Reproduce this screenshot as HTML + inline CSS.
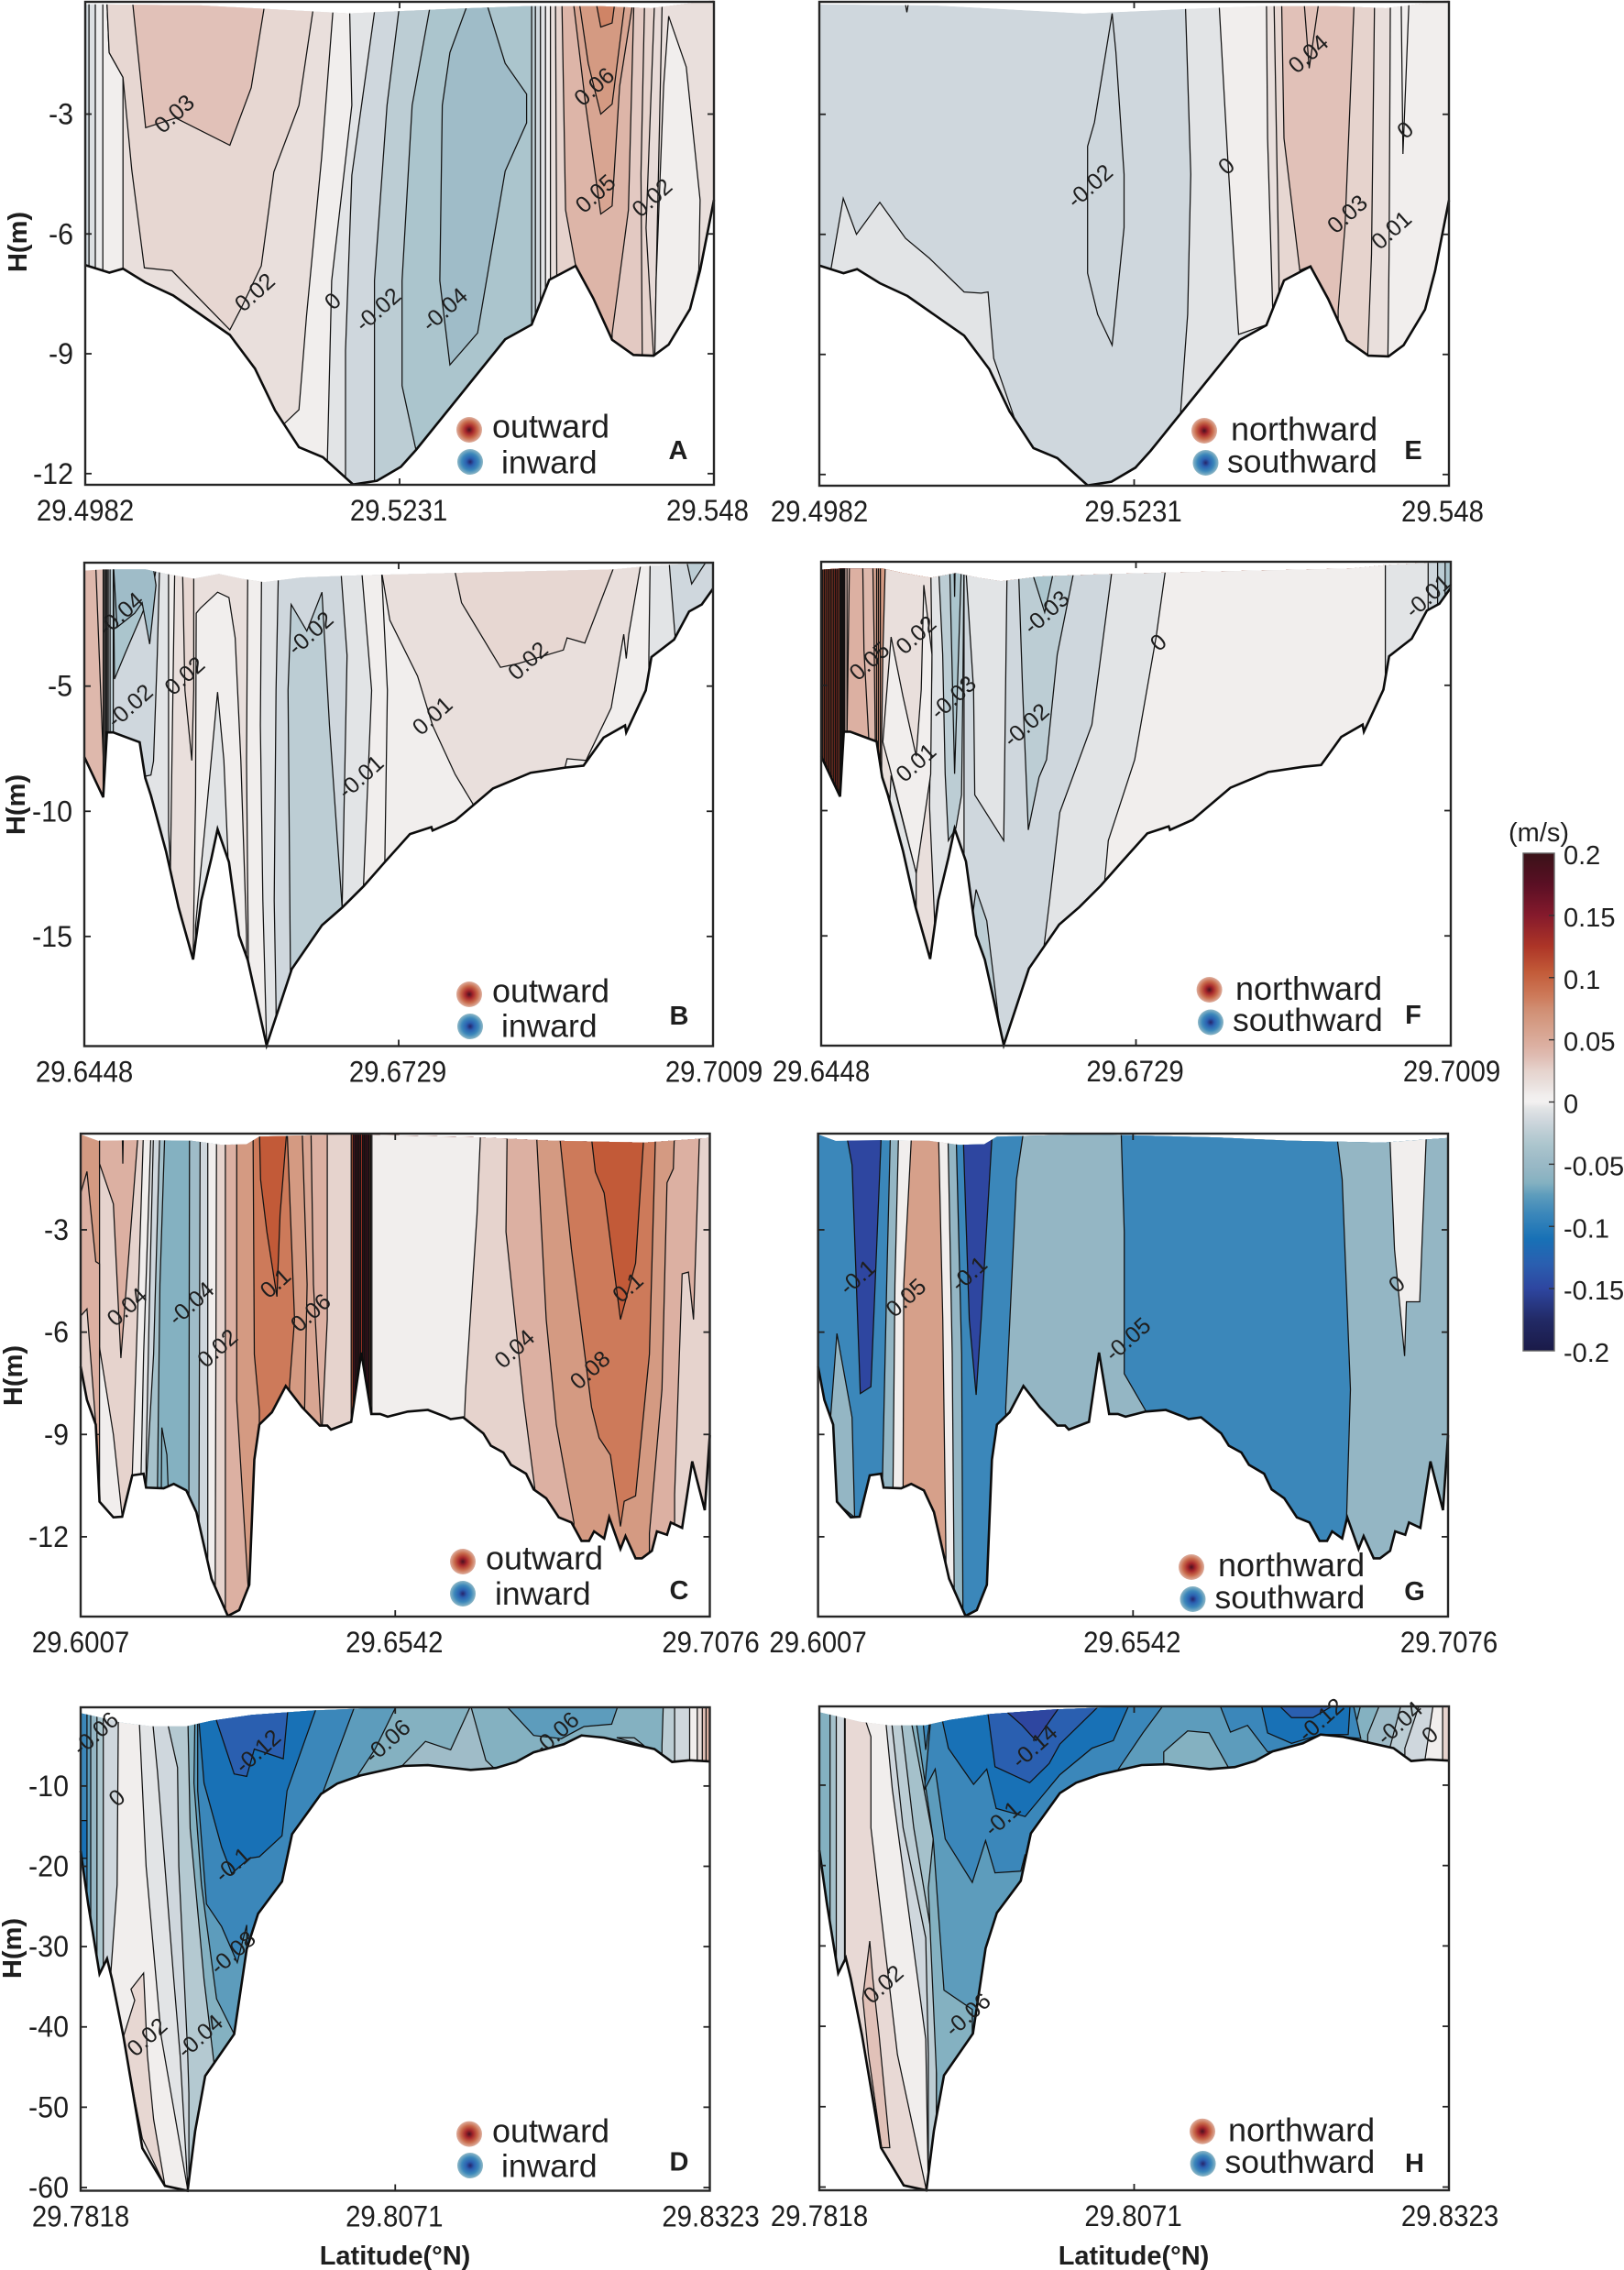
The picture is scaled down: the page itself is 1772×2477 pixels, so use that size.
<!DOCTYPE html>
<html lang="en">
<head>
<meta charset="utf-8">
<title>Cross-section velocity contours</title>
<style>
html,body{margin:0;padding:0;background:#fff;}
svg{display:block;font-family:"Liberation Sans",sans-serif;}
</style>
</head>
<body>
<svg id="figure" xmlns="http://www.w3.org/2000/svg" width="1772" height="2477" viewBox="0 0 1772 2477">
<defs id="defs">
<radialGradient id="dotRed"><stop offset="0" stop-color="#4a1020"/><stop offset="0.3" stop-color="#a5252a"/><stop offset="0.65" stop-color="#c8694a"/><stop offset="1" stop-color="#deb0a0"/></radialGradient>
<radialGradient id="dotBlue"><stop offset="0" stop-color="#26246a"/><stop offset="0.3" stop-color="#2a5fb0"/><stop offset="0.65" stop-color="#3b87ba"/><stop offset="1" stop-color="#8fb8c6"/></radialGradient>
</defs>
</svg>
<script>
// ---------- colour scale (m/s) ----------
const colorValues = [-0.2,-0.175,-0.15,-0.13,-0.11,-0.09,-0.075,-0.065,-0.055,-0.045,-0.035,-0.025,-0.015,-0.005,0,0.005,0.015,0.025,0.035,0.045,0.055,0.065,0.075,0.085,0.105,0.125,0.15,0.175,0.2];
const colorHex = ['#1a1a48','#222a66','#2e46a0','#2a5fb0','#1871b6','#3b87ba','#5d9cbc','#84b1c1','#94b6c4','#9fbcc8','#abc5cd','#bccdd4','#cfd7dd','#e2e4e6','#f3f1f1','#f1eeed','#e9dfdc','#e6d3cd','#e0bfb6','#dcb0a2','#d8a592','#d49a82','#d08d72','#cd7a5a','#c25a38','#ad3527','#851a2c','#5a0f24','#3a1218'];
const colorbarTicks = [0.2,0.15,0.1,0.05,0,-0.05,-0.1,-0.15,-0.2];
const colorbarTickLabels = ['0.2','0.15','0.1','0.05','0','-0.05','-0.1','-0.15','-0.2'];

// ---------- sections: along-section position (% of span), depth (m) ----------
const bedAE = [0,6.78,3.84,6.97,6,6.87,9.6,7.22,14,7.54,23,8.53,27,9.37,30.2,10.42,34,11.34,37.8,11.59,42.6,12.27,46.4,12.18,50.2,11.83,52.6,11.41,66.8,8.64,71,8.27,73.8,7.15,78,6.8,80.8,7.61,83.8,8.65,87.2,9.03,90.4,9.05,92.8,8.77,96.2,7.88,97.8,6.91,100,5.15];
const surfaceAE = [0,0.25,18.4,0.28,42,0.48,58,0.37,70,0.3,82,0.3,90,0.35,100,0.15];
const bedBF = [0,7.83,3,9.44,3.6,6.85,4.6,6.85,8.8,7.24,9.7,8.67,10.6,9.37,13,11.61,15,13.85,17.3,15.92,18.6,13.57,20.2,11.89,21.2,10.72,23,12.03,24.6,14.97,26,15.95,29,19.35,33,16.3,37.8,14.55,41,13.85,44.4,13,47.8,12.03,51.8,10.91,55.2,10.63,55.4,10.77,59,10.37,65,9.09,71,8.46,76.6,8.25,79.4,8.18,82.6,7.06,86,6.57,86.2,6.85,89.3,5.17,90.2,3.84,93.8,3.14,96.2,2.02,98.2,1.74,100,1.11];
const surfaceBF = [0,0.38,3,0.34,9.8,0.34,13,0.52,17.4,0.71,21.4,0.52,25,0.71,28.6,0.85,34.6,0.66,44.2,0.57,58.6,0.48,84.2,0.34,89.8,0.2,100,0.07];
const bedCG = [0,7.01,1,7.99,2.4,8.71,3,10.97,5.2,11.43,6.6,11.41,8.2,10.2,10,10.15,10.4,10.56,13.2,10.58,14.8,10.45,16.8,10.64,18.4,11.28,20.8,13.23,23.4,14.32,25.2,14.15,26.8,13.41,27.6,9.74,28.4,8.71,30.4,8.35,32.6,7.58,35.2,8.2,38,8.74,39.2,8.74,39.8,8.86,43,8.63,44.6,6.6,46.2,8.4,47.6,8.4,48.8,8.48,52,8.33,55.2,8.28,58,8.48,58.8,8.55,60.8,8.5,64,8.97,65.2,9.33,67.2,9.53,68.4,9.89,70.8,10.15,72,10.61,74,10.87,76,11.43,78,11.58,79.6,12.12,80.8,12.12,81.6,11.84,83.2,12.05,84,11.43,85.8,12.36,86.6,11.98,88.2,12.63,89.2,12.63,90.8,12.41,91.6,11.84,93.2,11.94,93.8,11.58,95.6,11.74,97.2,9.79,99.2,11.22,100,9.02];
const surfaceCG = [0,0.2,2.8,0.39,10,0.37,17.6,0.39,22.4,0.51,26.4,0.49,28.4,0.27,43.2,0.2,63.2,0.29,75.2,0.39,89.6,0.44,100,0.31];
const bedDH = [0,18.1,1.2,24.7,3,33.4,4.2,31.5,5,34.1,6.8,41.2,9.8,55.1,13.4,59.8,17,60.4,18.2,53,19.8,46.1,24.4,40.9,26.4,30.3,28.2,25.9,32,21.9,33.6,16,38.2,11,40.8,9.7,44.4,8.7,51.2,7.5,55.2,7.4,62,8,66,7.75,69.2,7,72,5.8,76.8,4.8,79.6,3.7,83.2,3.98,91.2,5.4,94,7,96.8,6.8,100,6.95];
const surfaceDH = [0,0.9,6.4,2.1,11.2,2.57,16.8,2.57,20.8,1.87,27.2,1.15,36.8,0.6,49.6,0.2,100,0.2];

// ---------- panel A ----------
const bandsA = [[-0.008,[0.6,0]],[-0.002,[1.6,0]],[0.005,[2.8,0]],[0.015,[3.4,0,3.8,1.46,6,2.08,6,6.5]],
[0.005,[39.6,0,37.6,4.1,35.2,8.04,34,10.4,31.6,10.76,29.6,12.43]],[-0.005,[42,0,42.4,2.78,39.2,7.17,38.4,12.43]],[-0.015,[46.4,0,42.4,4.53,41.4,8.92,41.4,12.43]],[-0.025,[50.2,0,48,2.78,46,7.17,46,12.4]],[-0.035,[55.2,0,52,2.78,50.4,7.17,50.4,9.8,52.6,11.4]],
[-0.025,[71,0]],[-0.015,[71.6,0]],[-0.005,[72.4,0]],[0.005,[73.2,0]],[0.015,[74,0]],[0.025,[74.8,0,75,7]],[0.042,[75.8,0,76.4,5.4,78,6.8]],
[0.03,[87.3,0,86.4,5.4,83.8,8.5]],[0.025,[89,0,88.4,4.5,88.6,9.05]],[0.018,[90.6,0,89.2,5.85,90.4,9.05]],[0.015,[91.8,0,90.8,7.17,90.6,9.05]]];
const patchesA = [[0.022,[3.4,0,3.8,1.46,6,2.08,7.4,4.4,9.4,6.85,13.8,6.92,23,8.4,24.8,7.86,28,6.8,30,4.45,34,2.78,36.6,0]],
[0.034,[7.4,0,9.6,3.34,14.4,3.1,23,3.78,26.4,2.34,28.8,0]],
[-0.045,[61.4,0,58,1.46,56.8,2.78,56.4,7.17,58,9.28,62.4,8.48,66.8,4.43,70.2,3.22,70.2,2.5,66.8,1.73,63.4,0]],
[0.055,[77.5,0,79.6,2.78,82,5.5,83.8,5.3,85,2.3,87.3,0]],[0.065,[78.4,0,80,1.73,82,3,83.8,2.75,86,0]],[0.08,[81,0,82,0.82,83.8,0.72,84.4,0]],
[0.005,[92.8,0.55,95.6,1.82,97.8,5.15,97.6,6.9,96.2,7.9,92.8,8.8,90.6,9.05,90.8,7.17,92,2.3]]];
const labelsA = [['0.03',14.2,3],['0.02',27,7.47],['0',39.4,7.69],['-0.02',46.6,7.9],['-0.04',57.2,7.9],['0.06',81,2.32],['0.05',81.2,5],['0.02',90.2,5.1]];

// ---------- panel E ----------
const bandsE = [[-0.005,[58.1,0,59,4.5,58.5,8,57.3,10.6]],[0.005,[63.4,0,64.9,4.2,66.6,8.5,70.8,8.27]],[0.015,[71,0,71.2,3.6,72,7.8]],[0.022,[72.2,0,73,7]],[0.034,[73.4,0,73.8,3.6,76.3,6.9,77.8,6.8]],[0.025,[85,0,83.5,5.8,82.4,7.9]],[0.015,[88.2,0,87.7,6.5,87.1,9]],[0.005,[90.7,0,90.5,6.5,90.3,9]]];
const patchesE = [[-0.005,[1.7,13,1.7,7,3.8,5.1,5.9,6,9.6,5.2,13.7,6.1,17.5,6.6,23,7.44,25.7,7.47,26.8,7.44,27.7,9.1,31,10.6,31,13]],
[-0.016,[46.5,0.48,43.7,3.2,42.6,3.8,42.6,6.97,44.2,8,46.5,8.77,48.4,5.83,48.4,4.5,47.1,1.45]],
[-0.005,[13.4,0,13.9,0.45,14.4,0]],[0.034,[76.9,0,77.8,1.85,79.5,0]],[0.005,[92.4,0,92.7,3.99,93.7,0]]];
const labelsE = [['-0.02',43,4.8],['0',64.7,4.3],['0',93.1,3.4],['0.04',77.7,1.5],['0.03',83.9,5.5],['0.01',90.9,5.9]];

// ---------- panel B ----------
const bandsB = [[0.035,[1.8,0,3,7.83]],[0.02,[3,0]],[0.01,[3.2,0]],[0,[3.4,0]],[-0.005,[3.6,0]],[-0.015,[3.8,0]],[-0.025,[4.1,0]],[-0.015,[4.6,0]],
[-0.005,[12,0,11.6,3.77,11,8,10.6,8.55,9.7,8.6]],[0.005,[13.4,0,13.4,10.77,13.7,12.17]],[0.015,[14.4,0,14.1,5.17,13.7,12.17]],
[0.005,[26,0,25.8,7.97,26.1,15.95]],[-0.005,[28.2,0,28,6.57,28.4,13.57,29,19.3]],[-0.015,[30.9,0,30.5,5.17,30.2,13.57,30.5,17.77]],
[-0.005,[40.7,0,41.8,3.77,41,13.85]],[0.005,[44,0,45.7,5.17,44.4,13]],[0.005,[47.2,0,48.2,5.17,47.8,12.03]],[0.015,[47,0,48.6,2.37,53,4.6,55.4,6.57,59,8.53,61.8,9.7]],
[0.005,[88.6,0,86.6,2.93,86.2,3.9,85.8,2.93,83.8,5.87,79.8,7.97,76.8,7.9,76.4,8.3]],[-0.005,[90,0,89.8,3.77]],[-0.015,[93,0,94,3.1]]];
const patchesB = [[-0.035,[4.6,0,4.8,4.72,6.6,3.63,9,2.23,11,0.97,11.6,0]],[-0.045,[4.6,0,5.2,2.65,8,2.09,9.2,1.67,10.4,3.32,10.8,2.37,11.4,0.97,10.8,0]],
[0.022,[15.6,0,16,5.17,17.1,7.97,17.4,5.17,17.4,0]],
[0.005,[17.8,2.09,18.5,1.88,21.2,1.25,23,1.46,24,3.07,24.9,7.97,25.8,14.97,25.8,20,17.3,20,17.3,15.92,17.7,9.37]],
[-0.005,[21.2,5.24,19.4,10.07,17.7,14.55,17.7,20,24,20,22.8,11.47,22.2,7.97]],
[-0.025,[32.9,1.74,35.4,2.8,37.8,1.25,39,6.57,41,13.85,41,20,32.9,20,32.4,5.17]],
[0.022,[58.6,0,60,1.67,66.2,4.25,69,4.1,76.2,3.56,76.8,3.07,79.6,3.28,84.6,0]],[-0.025,[95.8,0,96.6,0.92,99,0]]];
const labelsB = [['-0.04',5.8,2.13],['-0.02',7.3,5.8],['0.02',16,4.6],['-0.02',36,2.9],['0.01',55.4,6.2],['-0.01',44,8.64],['0.02',70.6,4]];

// ---------- panel F ----------
const bandsF = [[0.105,[0.25,0]],[0.125,[0.5,0]],[0.105,[0.75,0]],[0.125,[1,0]],[0.105,[1.25,0]],[0.125,[1.5,0]],[0.105,[1.75,0]],[0.125,[2,0]],[0.125,[2.25,0]],[0.125,[2.5,0]],[0.105,[2.75,0]],[0.2,[3,0]],[0.2,[3.15,0]],[0.2,[3.3,0]],[0.2,[3.45,0]],[0.2,[3.6,0]],
[0.035,[3.75,0]],[0.035,[4.1,0]],[0.045,[4.5,0,4.1,7]],[0.04,[6.6,0,6.8,3.6,7.6,7.3]],[0.055,[8.2,0,8.4,3,8.6,7.3]],[0.065,[8.8,0,8.8,8]],[0.065,[9.1,0,9.1,8]],[0.065,[9.4,0,9.4,8]],
[0.015,[10.2,0,9.8,3.77,9.6,7.26,9.6,8.2]],[-0.005,[17.4,0,17.6,3.77,17.2,9.8,18,14.3]],[-0.015,[22.7,0]],[-0.005,[46.4,0,43,6.57,37.9,10.07,36.3,13.57,35.4,15.4]],[0.005,[54.9,0,53.2,3.07,49.8,7.97,45.6,11.2,45,12.87]],[-0.005,[89.6,0,89.6,3.77]],[-0.015,[96.4,0]],[-0.025,[97.9,0]],[-0.035,[99.1,0]]];
const patchesF = [[0.005,[11.1,3.07,9.8,7.26,10.8,8.2,15.1,12.5,17.4,8.55,17.6,3.77,16.3,1,15.9,5.17,15.1,7.83,13,5.45]],
[-0.005,[11.1,8.6,10.4,12,15.1,14,15.1,12.5]],
[-0.025,[18.6,0,19.3,3.77,19.7,8.53,20.2,11.2,21.4,10.7,22.3,9.37,22.5,5.17,22.7,0]],[-0.035,[20.4,0,21.2,8.53,22.3,0]],[-0.045,[21.1,0,21.2,1.47,21.3,0]],
[-0.005,[22.9,0,24.2,5.17,24.4,9.37,29,11.2,29.5,0.8,29.5,0]],[-0.025,[24.6,13.15,24,14.3,24.4,14.83,28.6,19.2,26.3,14.4]],
[-0.025,[31.3,0,32,5.17,32.9,10.77,34.6,8.67,35.8,7.97,37.5,3.77,40.5,0]],[-0.035,[32.9,0,35.5,2.09,37.3,0]]];
const labelsF = [['0.05',7.7,4.05],['0.02',15.1,3],['-0.03',21,5.5],['-0.03',35.8,2.1],['-0.02',32.6,6.6],['0',53.6,3.3],['0.01',15.1,8.1],['-0.01',96.4,1.45]];

// ---------- panel C ----------
const bandsC = [[0.025,[3,0]],[0.005,[10,0,9.2,4.6,8.2,10.2]],[-0.005,[11.2,0,10,6.65,9.6,10.2]],[-0.015,[11.6,0,11,4.6,10.4,9.74]],[-0.04,[12.6,0,11.6,6.65,10.4,10.56]],[-0.065,[13.4,0,12.6,4.6,12.2,10.56]],
[-0.045,[17.3,0,17.2,10.64]],[-0.015,[19,0,18.8,11.28]],[0.005,[20.2,0,20.2,12.3]],[0.025,[21.6,0,21.4,12.82]],[0.045,[23,0]],[0.065,[24.8,0,24.8,8,26.6,13.41]],
[0.085,[27.4,0,27.6,6.65,28.4,8.3]],[0.065,[32.8,0,34,5.63,33.2,7.58]],[0.055,[35.2,0,36,4.6,35.6,8.2]],[0.045,[36.6,0,37,4.6,38.2,8.74]],[0.025,[39.2,0,39.2,5.63,38.4,8.74]],
[0.105,[43,0]],[0.175,[43.3,0]],[0.2,[43.6,0]],[0.2,[43.9,0]],[0.2,[44.2,0]],[0.125,[44.5,0]],[0.2,[44.8,0]],[0.2,[45.1,0]],[0.175,[45.4,0]],[0.175,[45.7,0]],[0.105,[45.9,0]],[0.025,[46.1,0]],[0.005,[46.3,0]],
[0.025,[63.6,0,63,2.55,61.2,7.68,61,8.5]],[0.045,[67.8,0,67.6,3.06,70.4,8,72.2,10.61]],[0.065,[72.4,0,74,5.63,75.6,8.71,78.4,11.58]],[0.045,[94.4,0,94.2,1.21,93.2,1.62,92.4,7.68,90.4,11.9]],[0.015,[98.6,0]]];
const patchesC = [[0.045,[0,1.93,1,1.29,2.4,3.93,3,4,3,9,0,9]],[0.025,[0,5.53,1,5.32,2.4,8.7,3,11,0,11]],
[0.045,[3,0,3,1.06,5.2,2.24,6.4,6.76,9.2,0]],[0.045,[6.6,0,6.7,1.06,6.8,0]],[0.005,[3,6.45,5.2,9,6.6,11.4,3,15]],[-0.065,[12.9,8.8,12.8,11,14,11,13.7,9.6]],
[0.105,[28.4,0,28.6,1.52,29.6,3.06,31.2,4.96,31.7,2.55,32.8,0]],
[0.085,[76,0,78,3.57,81.2,8.2,82.4,9.1,84.2,9.6,85.8,11.7,86.4,10.96,88.2,10.8,90.4,6.65,91.4,0]],[0.105,[81,0,81.8,1.3,83.2,1.92,85.8,5.63,88.2,3.98,89.6,0]],
[0.025,[95.6,4.29,96.6,4.24,97.4,5.63,98.4,0,100,0,100,20,94.4,20,94.4,10.76]]];
const labelsC = [['0.04',7.4,5.27],['-0.04',17.6,5.17],['0.02',21.8,6.48],['0.1',31,4.57],['0.06',36.6,5.44],['0.04',69,6.5],['0.08',81,7.12],['0.1',87,4.7]];

// ---------- panel G ----------
const bandsG = [[-0.055,[11.5,0,10.9,4.6,10.2,10.56]],[0.005,[12.8,0,12.2,4.6,11.9,10.56]],[0.06,[14.9,0,13.6,4.6,13.5,10.56]],[0.005,[19.1,0,19.8,5.63,20.3,12.5]],[-0.055,[20.6,0,21.3,6.65,21.6,13.4]],[-0.09,[21.9,0,22.8,6.65,23,14.3]],
[-0.055,[32.7,0,31.5,1.52,29.8,8.2]],[-0.09,[48.1,0,48.6,3.06,48.6,7.22,52,8.3]],[-0.055,[82.2,0,83.2,1.52,84.5,7.68,83.9,11.43]]];
const patchesG = [[-0.055,[3,6.04,5.4,8.5,5.8,11.43,3,11,2,8.5]],[-0.15,[4.3,0,5.4,1.1,6.7,7.8,8.4,7.6,10,0.4,10,0]],[-0.15,[23,0,24,5.63,25.1,7.84,25.9,5.63,27.7,0]],[0.005,[90.7,0,91.5,3.57,93.1,6.7,93.4,5.11,95.5,5.11,96.6,0]]];
const labelsG = [['-0.1',6.3,4.4],['-0.1',24,4.3],['0.05',14,5],['-0.05',49.2,6.22],['0',91.9,4.6]];

// ---------- panel D ----------
const bandsD = [[-0.075,[1,0]],[-0.055,[1.6,0]],[-0.035,[2.6,0]],[-0.015,[3.6,0]],[0.005,[6,0,5.8,22.3,4.8,33.2]],[-0.005,[9.2,0,10.4,20,12.8,41.2,17,60.2]],[-0.015,[11.2,0,12.2,8.2,14.8,34.1,15.8,43.5,17,59.6]],[-0.03,[13.2,0,15.4,7.7,15.6,20,17,43,17.2,48.3]],
[-0.065,[17,0,17.4,15.3,19.6,34.1,21.2,44.5]],[-0.075,[18.2,0,18,9.6,19.2,22.3,21.6,36.5,24.4,40.9]],[-0.09,[18.6,0,18.6,10.6,20,24.7,22.4,27.5,24.9,32,26.4,27.3]],
[-0.075,[43.6,0,40.8,5.9,38.4,11]],[-0.065,[50.2,0,46.8,5.4,44,8.7]],[-0.025,[92.6,0,92.4,5]],[-0.015,[94.4,0]],[0.005,[96.8,0]],[0.015,[98,0]],[0.035,[98.8,0]],[0.045,[99.4,0]]];
const patchesD = [[-0.11,[0,14.3,1,14.3,1,19,0,19]],[0.022,[10,33.3,8,35.3,8.6,36.7,6.8,41.2,8.4,48.3,9.8,53.9,13.4,59.8,11.6,51.5,10.6,43.5]],
[-0.11,[18.6,0,19.6,9.63,22.4,17.6,24,20.9,26.8,19,28.4,18.8,32,16.2,32.8,10.6,37.6,0]],[-0.13,[20.8,0,24.4,8.5,26.4,8.8,27.6,5.4,32.2,6.6,33,0]],
[-0.045,[51.2,9,51.2,7.4,54.8,4.45,58.8,5.5,62,0,64.4,6.8,66,8]],[-0.075,[67.6,0,72,3.7,76.4,4.1,80,2.6,84.4,2.3,85.4,0]],[-0.045,[85.2,3.98,89.6,5,88,4]]];
const labelsD = [['-0.06',2.4,3.5],['0',5.8,11.5],['-0.12',28.2,5.7],['-0.06',48.8,4.45],['-0.06',75.6,3.5],['-0.1',24.2,19.85],['-0.08',24.2,30.8],['-0.04',19,41.2],['0.02',10.6,41.3]];

// ---------- panel H ----------
const bandsH = [[-0.04,[1.7,0]],[-0.015,[2.7,0]],[0.005,[4,0]],[0.02,[4.1,0]],[0.005,[6.5,0,8.2,3.96,8.2,15.3,12.4,43.5,16.9,60]],[-0.015,[10.3,0,11.6,10.56,16.9,41.6,17.3,60]],[-0.025,[11.2,0,13.3,15.3,16.9,29,17.3,43.5]],[-0.04,[12.7,0,15,15.3,17.8,28.5,18.6,43.5]],
[-0.065,[14.1,0,18.1,16.7,17.3,22.8,18.6,45.9]],[-0.075,[15,0,18.1,16.7,18.8,24.7,19.8,35.5,24.3,37.9]],[-0.09,[17.9,0,16.7,10.6,18.4,8,20,16.7,24.3,22.1,26.4,16.9,27.9,20.9,32,20.7,32.7,18.6]],[-0.075,[54.7,0,51.4,3.5,47.5,8]],
[-0.065,[86,0,84.8,3.7]],[-0.045,[89,0,87.1,3.7]],[-0.025,[92.4,0,90.7,5.1]],[-0.015,[95.3,0,93,5.4]],[0.005,[97.5,0,96.2,6.8]],[0.025,[99,0]]];
const patchesH = [[0.034,[8,29.4,6.9,36.5,7.8,43.5,9.9,55.1,11.2,55.1,9.5,41.2,8.5,34.1]],
[-0.09,[16.2,0,16.9,5.6,17.9,0]],
[-0.11,[19,0,20.5,5.4,24.5,9.9,26.6,8,28.1,12.9,32.7,13.9,38.2,8.7,43.3,5.4,46.7,4.45,49.2,0]],[-0.13,[26.6,0,27.9,7.7,33.4,9.7,36.5,7.3,38.2,4.9,44.6,0]],[-0.15,[28.5,0,32.2,2.56,34.4,4.45,38.4,0]],
[-0.065,[54.7,9,54.7,5.86,58.5,3.26,61.9,3.5,64.9,7.7,64.9,9]],
[-0.09,[63.6,0,65.3,3.4,68,2.56,71.2,5.86,75.5,5.4,79.7,3.7,86,4.2,84.8,0]],[-0.11,[70.2,0,71.2,3.5,75,4.8,79.7,3.7,84,3.7,84.3,0]],[-0.13,[72.9,0,75,1.6,78.4,1.6,81.8,0]]];
const labelsH = [['-0.14',34.2,5.2],['-0.12',79.7,1.9],['-0.04',92.2,2.3],['0',97,3.8],['-0.1',29.1,14.2],['0.02',10.2,34.8],['-0.06',23.6,38.6]];

// ---------- axis tick values ----------
const depthTicksAE = [3,6,9,12];
const depthTicksBF = [5,10,15];
const depthTicksCG = [3,6,9,12];
const depthTicksDH = [10,20,30,40,50,60];
const latLabelsAE = ['29.4982','29.5231','29.548'];
const latLabelsBF = ['29.6448','29.6729','29.7009'];
const latLabelsCG = ['29.6007','29.6542','29.7076'];
const latLabelsDH = ['29.7818','29.8071','29.8323'];

// ---------- layout ----------
const panels = [
 {id:'A',left:93,right:779,top:2,bottom:529,d0:0.19,d1:12.28,base:-0.015,bed:bedAE,surface:surfaceAE,bands:bandsA,patches:patchesA,labels:labelsA,dt:depthTicksAE,lat:latLabelsAE,title:[19,264],
  leg:['outward','inward',537,477.5,547,516.5,512,469,513,504],letter:[740,501]},
 {id:'E',left:894,right:1581,top:2,bottom:530,d0:0.19,d1:12.28,base:-0.015,bed:bedAE,surface:surfaceAE,bands:bandsE,patches:patchesE,labels:labelsE,dt:depthTicksAE,lat:latLabelsAE,
  leg:['northward','southward',1343,480.5,1339,515.5,1314,470,1315.5,505],letter:[1542,501]},
 {id:'B',left:92,right:778,top:614,bottom:1141.5,d0:0.07,d1:19.38,base:0.04,bed:bedBF,surface:surfaceBF,bands:bandsB,patches:patchesB,labels:labelsB,dt:depthTicksBF,lat:latLabelsBF,title:[17,878],
  leg:['outward','inward',537,1093.5,547,1131.5,512,1085,513,1120],letter:[741,1118]},
 {id:'F',left:896,right:1583,top:613,bottom:1141,d0:0.07,d1:19.38,base:0.125,bed:bedBF,surface:surfaceBF,bands:bandsF,patches:patchesF,labels:labelsF,dt:depthTicksBF,lat:latLabelsBF,
  leg:['northward','southward',1348,1091,1345,1125,1319.6,1080,1321,1115.5],letter:[1542,1117]},
 {id:'C',left:88,right:774.5,top:1237,bottom:1764,d0:0.18,d1:14.34,base:0.065,bed:bedCG,surface:surfaceCG,bands:bandsC,patches:patchesC,labels:labelsC,dt:depthTicksCG,lat:latLabelsCG,title:[14,1501],
  leg:['outward','inward',530,1712.5,540,1751,505,1704,505,1739],letter:[741,1745]},
 {id:'G',left:892.6,right:1580,top:1237,bottom:1764,d0:0.18,d1:14.34,base:-0.09,bed:bedCG,surface:surfaceCG,bands:bandsG,patches:patchesG,labels:labelsG,dt:depthTicksCG,lat:latLabelsCG,
  leg:['northward','southward',1329,1720,1325.5,1755,1300,1710,1301.5,1745],letter:[1543.5,1746]},
 {id:'D',left:88,right:774.5,top:1863,bottom:2390.5,d0:0.2,d1:60.4,base:-0.09,bed:bedDH,surface:surfaceDH,bands:bandsD,patches:patchesD,labels:labelsD,dt:depthTicksDH,lat:latLabelsDH,title:[13,2126],
  leg:['outward','inward',537,2337.5,547,2375.5,512,2328.6,513,2363],letter:[741,2368.6],xTitle:431},
 {id:'H',left:894,right:1581,top:1862,bottom:2390,d0:0.2,d1:60.4,base:-0.065,bed:bedDH,surface:surfaceDH,bands:bandsH,patches:patchesH,labels:labelsH,dt:depthTicksDH,lat:latLabelsDH,
  leg:['northward','southward',1340,2336.5,1336.5,2371,1312,2325.7,1312.6,2361],letter:[1543.5,2370],xTitle:1237}
];

// ---------- drawing ----------
const NS = 'http://www.w3.org/2000/svg';
const svg = document.getElementById('figure');
const defs = document.getElementById('defs');

function colorOf(v){
  if (v <= colorValues[0]) return colorHex[0];
  for (let i = 1; i < colorValues.length; i++){
    if (v <= colorValues[i]){
      const t = (v - colorValues[i-1]) / (colorValues[i] - colorValues[i-1]);
      const a = parseInt(colorHex[i-1].slice(1),16), b = parseInt(colorHex[i].slice(1),16);
      const mix = s => Math.round(((a>>s)&255)*(1-t) + ((b>>s)&255)*t);
      return 'rgb(' + mix(16) + ',' + mix(8) + ',' + mix(0) + ')';
    }
  }
  return colorHex[colorHex.length-1];
}
function node(tag, parent, attrs){
  const e = document.createElementNS(NS, tag);
  for (const k in attrs) e.setAttribute(k, attrs[k]);
  parent.appendChild(e);
  return e;
}
function putText(parent, str, x, y, size, anchor, weight, sx, angle){
  const t = node('text', parent, {
    transform:'translate(' + x + ',' + y + ') rotate(' + (angle||0) + ') scale(' + (sx||1) + ',1)',
    'font-size':size, 'text-anchor':anchor||'start', 'font-weight':weight||'normal', fill:'#1e1e1e'
  });
  t.textContent = str;
  return t;
}
function xOf(p, pos){ return p.left + pos/100*(p.right-p.left); }
function yOf(p, d){ return p.top + (d-p.d0)/(p.d1-p.d0)*(p.bottom-p.top); }
function toPixels(p, flat){
  const out = [];
  for (let i = 0; i < flat.length; i += 2) out.push(xOf(p,flat[i]).toFixed(1) + ',' + yOf(p,flat[i+1]).toFixed(1));
  return out;
}

panels.forEach(function(p){
  const g = node('g', svg, {});
  
  

  // water area clip: surface then bed reversed
  const rev = [];
  for (let i = p.bed.length-2; i >= 0; i -= 2) rev.push(p.bed[i], p.bed[i+1]);
  const waterPts = toPixels(p, p.surface.concat(rev)).join(' ');
  const clip = node('clipPath', defs, {id:'water' + p.id});
  node('polygon', clip, {points:waterPts});

  const field = node('g', g, {'clip-path':'url(#water' + p.id + ')'});
  
  

  const basePoly = node('polygon', field, {points:waterPts, fill:colorOf(p.base)});
  
  

  const deep = p.d1 + 5;
  p.bands.forEach(function(b){
    const pts = b[1];
    const line = [pts[0], -1].concat(pts, [pts[pts.length-2], deep]);
    const px = toPixels(p, line);
    const far = xOf(p,110).toFixed(1);
    const fillPts = px.concat([far + ',' + yOf(p,deep).toFixed(1), far + ',' + yOf(p,-1).toFixed(1)]).join(' ');
    const band = node('polygon', field, {points:fillPts, fill:colorOf(b[0])});
    
    
    const edge = node('polyline', field, {points:px.join(' '), fill:'none', stroke:'#111', 'stroke-width':1.25});
    
    
  });
  p.patches.forEach(function(c){
    const patch = node('polygon', field, {points:toPixels(p,c[1]).join(' '), fill:colorOf(c[0]), stroke:'#111', 'stroke-width':1.25});
    
    
  });

  const bedLine = node('polyline', g, {points:toPixels(p,p.bed).join(' '), fill:'none', stroke:'#0c0c0c', 'stroke-width':2.6});
  
  

  // frame and ticks
  const frame = node('rect', g, {x:p.left, y:p.top, width:p.right-p.left, height:p.bottom-p.top, fill:'none', stroke:'#262626', 'stroke-width':2.4});
  
  
  const mid = (p.left+p.right)/2;
  [[p.bottom,-7],[p.top,7]].forEach(function(t){
    const tick = node('line', g, {x1:mid, x2:mid, y1:t[0], y2:t[0]+t[1], stroke:'#222', 'stroke-width':1.8});
    
    
  });
  p.dt.forEach(function(d){
    const y = yOf(p,d);
    [[p.left,7],[p.right,-7]].forEach(function(t){
      const tick = node('line', g, {x1:t[0], x2:t[0]+t[1], y1:y, y2:y, stroke:'#222', 'stroke-width':1.8});
      
      
    });
    if (p.title){
      const lab = putText(g, '-' + d, p.left-13, y+11, 32, 'end', 'normal', 0.95);
      
      
    }
  });
  [p.left, mid, p.right].forEach(function(x, i){
    const off = i === 1 ? -1 : (i === 2 && p.lat[i].length < 7 ? -7 : (i === 2 ? 1 : 0));
    const lab = putText(g, p.lat[i], x+off, p.bottom+39, 32, 'middle', 'normal', 0.92);
    
    
  });
  if (p.title){
    const yt = putText(g, 'H(m)', p.title[0]+10, p.title[1], 29, 'middle', 'bold', 1, -90);
    
    
  }
  if (p.xTitle){
    const xt = putText(g, 'Latitude(°N)', p.xTitle, 2471, 29, 'middle', 'bold');
    
    
  }

  // inline contour labels
  p.labels.forEach(function(l){
    const t = putText(g, l[0], xOf(p,l[1]), yOf(p,l[2]), 25, 'middle', 'normal', 1, -42);
    t.setAttribute('dominant-baseline', 'central');
    
    
  });

  // legend
  const L = p.leg;
  const legend = node('g', g, {});
  
  
  const d1 = node('ellipse', legend, {cx:L[6], cy:L[7], rx:14, ry:14, fill:'url(#dotRed)'});
  
  
  const d2 = node('ellipse', legend, {cx:L[8], cy:L[9], rx:14, ry:14, fill:'url(#dotBlue)'});
  
  
  const t1 = putText(legend, L[0], L[2], L[3], 36, 'start');
  
  
  const t2 = putText(legend, L[1], L[4], L[5], 35.5, 'start');
  
  
  const letter = putText(g, p.id, p.letter[0], p.letter[1], 29, 'middle', 'bold');
  
  
});

// colour bar
const cbTop = 931, cbBottom = 1474, cbLeft = 1662, cbRight = 1696;
function cbY(v){ return cbTop + (0.2 - v)/0.4*(cbBottom-cbTop); }
const grad = node('linearGradient', defs, {id:'cbGrad', x1:0, y1:0, x2:0, y2:1});
for (let i = colorValues.length-1; i >= 0; i--){
  node('stop', grad, {offset:((0.2-colorValues[i])/0.4).toFixed(4), 'stop-color':colorHex[i]});
}
const cb = node('g', svg, {});


const cbRect = node('rect', cb, {x:cbLeft, y:cbTop, width:cbRight-cbLeft, height:cbBottom-cbTop, fill:'url(#cbGrad)', stroke:'#666', 'stroke-width':1.4});


colorbarTicks.forEach(function(v, i){
  const y = cbY(v);
  if (i > 0 && i < colorbarTicks.length-1){
    const tk = node('line', cb, {x1:cbRight-6, x2:cbRight, y1:y, y2:y, stroke:'#333', 'stroke-width':1.4});
    
    
  }
  const lab = putText(cb, colorbarTickLabels[i], 1706, y+12, 29, 'start');
  
  
});
const unit = putText(cb, '(m/s)', 1646, 918, 29, 'start');


</script>
</body>
</html>
